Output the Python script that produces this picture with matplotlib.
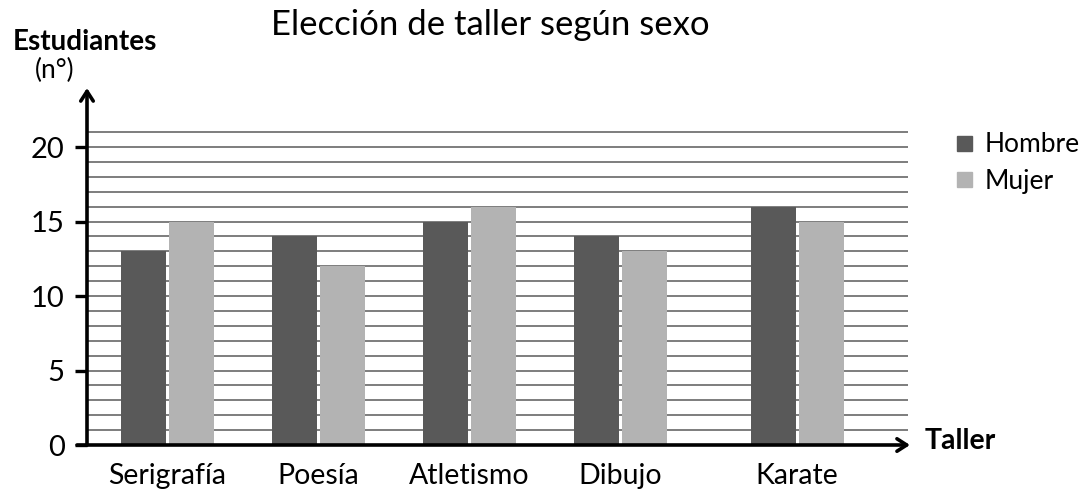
import matplotlib.pyplot as plt
from matplotlib.patches import Rectangle

plt.rcParams['font.family'] = ['Lato', 'DejaVu Sans']

talleres = ['Serigrafía', 'Poesía', 'Atletismo', 'Dibujo', 'Karate']
hombre = [13, 14, 15, 14, 16]
mujer = [15, 12, 16, 13, 15]
yticks = [0, 5, 10, 15, 20]

pos = [0, 1, 2, 3, 4.17]
width = 0.298
offset = 0.159
c_h = '#595959'
c_m = '#b3b3b3'

fig = plt.figure(figsize=(10.85, 4.97), dpi=100)
W, H = 1085, 497
x0, x1, y0, y1 = 87, 910, 445, 88
ax = fig.add_axes([x0 / W, (H - y0) / H, (x1 - x0) / W, (y0 - y1) / H])
ax.set_xlim(-0.533, 4.917)
ax.set_ylim(0, 23.96)

# horizontal rules at every unit
for v in range(1, 22):
    ax.hlines(v, -0.533, 4.904, color='#5a5a5a', lw=1.1, zorder=1)

ax.bar([p - offset for p in pos], hombre, width, color=c_h, zorder=2)
ax.bar([p + offset for p in pos], mujer, width, color=c_m, zorder=2)

for s in ax.spines.values():
    s.set_visible(False)

# axes with arrowheads
ax.annotate('', xy=(0, 1), xytext=(0, 0), xycoords='axes fraction',
            arrowprops=dict(arrowstyle='->,head_length=0.7,head_width=0.45',
                            lw=2.6, color='black', shrinkA=0, shrinkB=0))
ax.annotate('', xy=(1, 0), xytext=(-0.012, 0), xycoords='axes fraction',
            arrowprops=dict(arrowstyle='->,head_length=0.7,head_width=0.45',
                            lw=2.6, color='black', shrinkA=0, shrinkB=0))

ax.set_yticks(yticks)
ax.set_yticklabels([str(t) for t in yticks], fontsize=21)
ax.tick_params(axis='y', length=9, width=2.4, pad=7, color='black')
ax.set_xticks(pos)
ax.set_xticklabels(talleres, fontsize=20.5)
ax.tick_params(axis='x', length=0, pad=13)

fig.text(0.4516, 0.95, 'Elección de taller según sexo', fontsize=25,
         ha='center', va='center')
fig.text(0.0783, 0.915, 'Estudiantes', fontsize=20, fontweight='bold',
         ha='center', va='center')
fig.text(0.0507, 0.859, '(n°)', fontsize=19, ha='center', va='center')
fig.text(0.852, 0.113, 'Taller', fontsize=20.5, fontweight='bold',
         ha='left', va='center')

# legend drawn as squares with labels
sq = 15
for i, (lab, col) in enumerate([('Hombre', c_h), ('Mujer', c_m)]):
    yc = 143 + 36 * i
    fig.patches.append(Rectangle((957 / W, (H - yc - sq / 2) / H), sq / W, sq / H,
                                 transform=fig.transFigure, color=col))
    fig.text(985 / W, (H - yc - 2) / H, lab, fontsize=19, ha='left', va='center')

fig.savefig('out.png', dpi=100)
